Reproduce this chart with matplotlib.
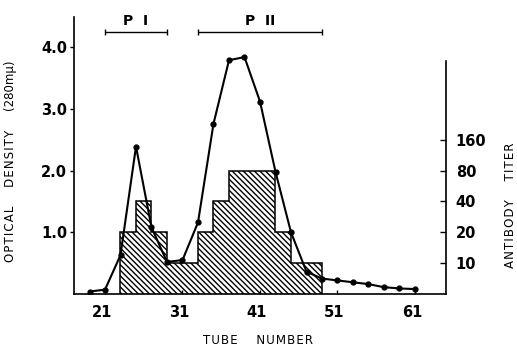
import matplotlib
matplotlib.use("Agg")
import matplotlib.pyplot as plt
from matplotlib.transforms import ScaledTranslation

# Optical density (280 mu) per tube
tubes = [19, 21, 23, 25, 27, 29, 31, 33, 35, 37, 39, 41, 43, 45, 47, 49,
         51, 53, 55, 57, 59, 61]
od = [0.04, 0.07, 0.63, 2.39, 1.08, 0.52, 0.55, 1.16, 2.76, 3.79, 3.84, 3.12,
      1.98, 1.00, 0.36, 0.25, 0.22, 0.19, 0.16, 0.11, 0.09, 0.08]

# Antibody titer of pooled fractions (step histogram)
titer_edges = [23, 25, 27, 29, 33, 35, 37, 43, 45, 47, 49]
titers = [20, 40, 20, 10, 20, 40, 80, 20, 10, 10]

# Peak pools
pools = [("P  I", 21, 29), ("P  II", 33, 49)]

od_ticks = [1.0, 2.0, 3.0, 4.0]
titer_ticks = [10, 20, 40, 80, 160]
tube_ticks = [21, 31, 41, 51, 61]


def spaced(text, gap="\u200a", word_gap="     "):
    """Letter-spaced caption text."""
    return word_gap.join(gap.join(w) for w in text.split())


W, H = 517, 345
fig = plt.figure(figsize=(W / 100, H / 100), dpi=100)
plt.rcParams['hatch.linewidth'] = 1.0
ax = fig.add_axes([74 / W, 1 - 294 / H, (446 - 74) / W, (294 - 17) / H])
tw = ax.twinx()

OD_TOP = 4.49
TITER_BASE = 5
ax.set_xlim(17, 65)
ax.set_ylim(0, OD_TOP)
tw.set_yscale('log', base=2)
tw.set_ylim(TITER_BASE, TITER_BASE * 2 ** (2 * OD_TOP))

# titer histogram on the right (log2) scale
tw.stairs(titers, titer_edges, baseline=TITER_BASE, fill=True,
          facecolor='white', edgecolor='black', hatch='\\' * 6, lw=1.1)

# OD curve on top
ax.set_zorder(tw.get_zorder() + 1)
ax.patch.set_visible(False)
ax.plot(tubes, od, '-', color='black', lw=1.5, marker='o', ms=3.5,
        mfc='black', mec='black')

# pool brackets
for name, a, b in pools:
    ax.errorbar((a + b) / 2, 4.25, xerr=(b - a) / 2, fmt='none',
                ecolor='black', elinewidth=1.0, capsize=2.5, capthick=1.0)
    ax.text((a + b) / 2, 4.42, name, ha='center', va='center',
            fontsize=10, fontweight='bold', family='DejaVu Sans')

# spines
for a_ in (ax, tw):
    a_.spines['top'].set_visible(False)
ax.spines['right'].set_visible(False)
tw.spines['left'].set_visible(False)
tw.spines['bottom'].set_visible(False)
tw.spines['right'].set_bounds(TITER_BASE, TITER_BASE * 2 ** (2 * 3.78))
for s in ('left', 'bottom'):
    ax.spines[s].set_linewidth(1.2)
tw.spines['right'].set_linewidth(1.2)

# ticks
ax.set_yticks(od_ticks)
ax.set_yticklabels([f"{v:.1f}" for v in od_ticks])
ax.tick_params(axis='y', direction='out', length=3, width=1.0, pad=2,
               labelsize=10.5)
ax.set_xticks(tube_ticks)
ax.set_xticks(list(range(17, 65, 2)), minor=True)
ax.set_xticklabels([str(t) for t in tube_ticks])
ax.tick_params(axis='x', which='both', direction='in', length=3, width=1.0,
               pad=8, labelsize=10.5)
for lab in ax.get_xticklabels() + ax.get_yticklabels():
    lab.set_fontweight('bold')
off = ScaledTranslation(-3 / 100, 0, fig.dpi_scale_trans)
for lab in ax.get_xticklabels():
    lab.set_transform(lab.get_transform() + off)

tw.set_yticks(titer_ticks)
tw.set_yticklabels([str(t) for t in titer_ticks])
tw.minorticks_off()
tw.tick_params(axis='y', direction='in', length=4, width=1.0, pad=7,
               labelsize=10.5)
for lab in tw.get_yticklabels():
    lab.set_fontweight('bold')

# axis titles
cap = dict(fontsize=8.5, fontweight='medium', family='DejaVu Sans')
fig.text(11 / W, 1 - 161 / H, spaced("OPTICAL DENSITY") + "     (280m\u03bc)",
         rotation=90, ha='center', va='center', **cap)
fig.text(258 / W, 1 - 340 / H, spaced("TUBE NUMBER"), ha='center',
         va='center', **cap)
fig.text(511 / W, 1 - 205 / H, spaced("ANTIBODY TITER"), rotation=90,
         ha='center', va='center', **cap)

fig.savefig("out.png", dpi=100)
